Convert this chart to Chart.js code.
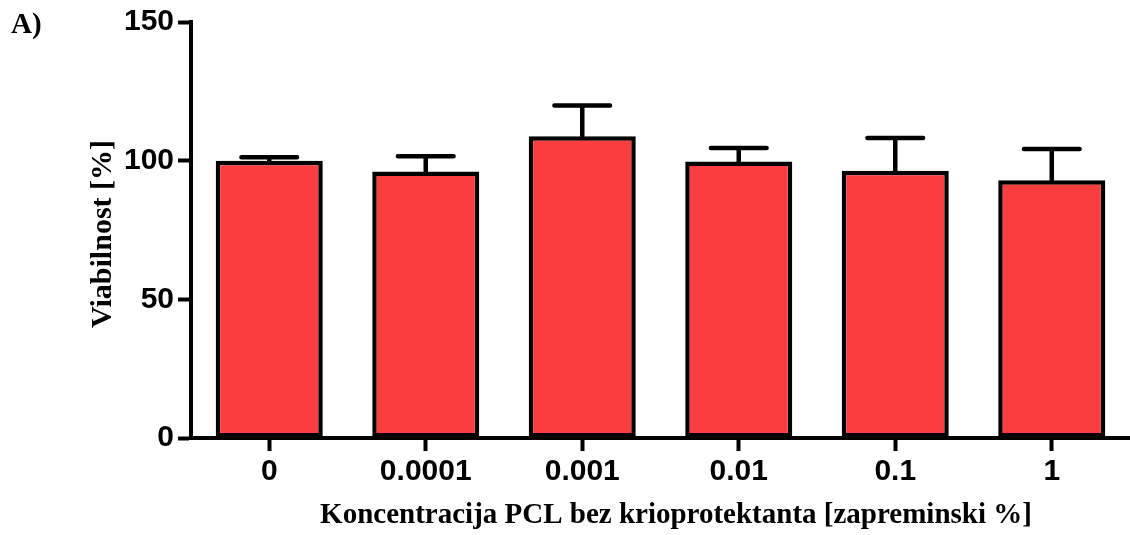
<!DOCTYPE html>
<html>
<head>
<meta charset="utf-8">
<script src="https://cdn.jsdelivr.net/npm/chart.js@4.4.1/dist/chart.umd.min.js"></script>
<style>
  html, body { margin: 0; padding: 0; background: #fff; }
  #wrap { width: 1130px; height: 535px; }
</style>
</head>
<body>
<div id="wrap"><canvas id="viab"></canvas></div>
<script>
// podaci
const koncentracije = ['0', '0.0001', '0.001', '0.01', '0.1', '1'];
const viabilnost = [100, 96.1, 108.8, 99.7, 96.4, 92.9];
const sd = [1.2, 5.5, 11.1, 4.9, 11.8, 11.3];
const yTicks = [0, 50, 100, 150];

const naslovX = 'Koncentracija PCL bez krioprotektanta [zapreminski %]';
const naslovY = 'Viabilnost [%]';
const oznaka = 'A)';

// error bar (samo gornji dio)
const errorBars = {
    id: 'errorBars',
    afterDatasetsDraw(chart) {
        const ctx = chart.ctx;
        const meta = chart.getDatasetMeta(0);
        const y = chart.scales.y;
        ctx.save();
        ctx.strokeStyle = '#000';
        ctx.lineWidth = 4.5;
        ctx.lineCap = 'round';
        meta.data.forEach((bar, i) => {
            const yTop = y.getPixelForValue(viabilnost[i] + sd[i]);
            const yMid = y.getPixelForValue(viabilnost[i]);
            const half = bar.width * 0.26;
            ctx.beginPath();
            ctx.moveTo(bar.x, yMid);
            ctx.lineTo(bar.x, yTop);
            ctx.moveTo(bar.x - half, yTop);
            ctx.lineTo(bar.x + half, yTop);
            ctx.stroke();
        });
        ctx.restore();
    }
};

// naslovi osa
const naslovi = {
    id: 'naslovi',
    afterDraw(chart) {
        const ctx = chart.ctx;
        ctx.save();
        ctx.fillStyle = '#000';
        ctx.font = 'bold 29px "Liberation Serif", serif';
        ctx.textAlign = 'left';
        ctx.textBaseline = 'alphabetic';
        ctx.fillText(oznaka, 11, 33);

        ctx.font = 'bold 29px "Liberation Serif", serif';
        ctx.textAlign = 'center';
        ctx.fillText(naslovX, 676, 523);

        ctx.translate(111, 234);
        ctx.rotate(-Math.PI / 2);
        ctx.font = 'bold 30px "Liberation Serif", serif';
        ctx.fillText(naslovY, 0, 0);
        ctx.restore();
    }
};

const tickFont = { family: '"Liberation Sans", Arial, sans-serif', size: 30, weight: 'bold' };

new Chart(document.getElementById('viab'), {
    type: 'bar',
    data: {
        labels: koncentracije,
        datasets: [{
            data: viabilnost,
            backgroundColor: '#fa3e40',
            borderColor: '#000',
            borderWidth: 4.5,
            borderSkipped: false,
            barPercentage: 0.684,
            categoryPercentage: 1.0
        }]
    },
    options: {
        responsive: true,
        maintainAspectRatio: false,
        animation: false,
        layout: { padding: { top: 22, right: 0, left: 0, bottom: 0 } },
        plugins: { legend: { display: false }, tooltip: { enabled: false } },
        scales: {
            x: {
                afterFit: s => { s.height = 97; },
                grid: { display: true, offset: false, drawOnChartArea: false, drawTicks: true, tickLength: 13, tickWidth: 4, tickColor: '#000' },
                border: { display: true, width: 4, color: '#000' },
                ticks: { color: '#000', font: tickFont, padding: 3, maxRotation: 0 }
            },
            y: {
                min: 0,
                max: 150,
                afterFit: s => { s.width = 191; },
                afterBuildTicks: s => { s.ticks = yTicks.map(v => ({ value: v })); },
                grid: { display: true, drawOnChartArea: false, drawTicks: true, tickLength: 13, tickWidth: 4, tickColor: '#000' },
                border: { display: true, width: 4, color: '#000' },
                ticks: { color: '#000', font: tickFont, padding: 4 }
            }
        }
    },
    plugins: [errorBars, naslovi]
});
</script>
</body>
</html>
